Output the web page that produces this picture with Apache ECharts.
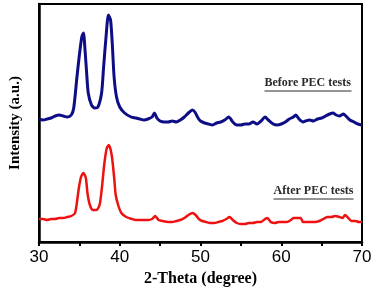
<!DOCTYPE html>
<html><head><meta charset="utf-8">
<script src="https://cdn.jsdelivr.net/npm/echarts@6/dist/echarts.min.js"></script>
<style>html,body{margin:0;padding:0;background:#fff}#c{width:378px;height:295px}</style>
</head><body><div id="c"></div>
<script>
// Before PEC tests (blue): [2-theta, intensity a.u.]
var beforeTheta = [30,30.5,31,31.5,32,32.5,33,33.5,34,34.3,34.7,35,35.3,35.5,35.7,35.9,36.1,36.5,36.9,37.3,37.75,38,38.3,38.6,38.86,39.07,39.3,39.6,40,40.6,41.4,42,42.5,43,43.5,44,44.3,44.6,45,45.5,46,46.5,47,47.5,48,48.5,49,49.3,49.7,50,50.5,51,51.5,52,52.5,53,53.5,54,54.5,55,55.5,56,56.5,57,57.5,58,58.4,59,59.5,60,60.5,61,61.5,61.8,62.2,62.7,63,63.5,64,64.5,65,65.5,66,66.4,66.8,67.2,67.7,68,68.5,69,69.5,70];
var beforeInt = [123,122,123,124,126,127,126,125,127,134,165,187,205,209,192,169,149,137,134,135,149,175,205,227,222,199,165,145,135,129,125,124,123,122,123,125,129,124,121,120,120,121,120,122,125,129,132,130,124,121,119,118,117,119,120,122,125,120,117,117,118,118,120,118,121,125,122,118,117,118,120,123,125,127,123,120,121,122,121,123,124,126,128,129,127,126,128,126,122,120,118,117];
// After PEC tests (red)
var afterTheta = [30,30.5,31,31.5,32,32.5,33,33.5,34,34.47,34.9,35.2,35.5,35.8,36,36.3,36.7,37.1,37.5,37.8,38.1,38.4,38.65,39,39.3,39.5,39.8,40.2,40.8,41.5,42,42.5,43,43.5,44,44.4,44.8,45.3,46,46.5,47,47.5,48,48.5,49,49.4,49.8,50.2,50.7,51.2,51.7,52.2,52.7,53.2,53.6,54,54.5,55,55.5,56,56.5,57,57.5,58,58.3,58.7,59.2,59.7,60.2,60.7,61.2,61.5,62,62.4,62.7,63.2,63.7,64.2,64.7,65.2,65.7,66.2,66.7,67.2,67.6,67.9,68.3,68.7,69.2,69.6,70];
var afterInt = [23,23,22,23,23,24,24,25,26,29,52,65,69,64,49,37,32,32,37,55,79,94,97,87,65,47,37,29,25,23,22,22,22,22,23,26,22,21,20,20,21,22,24,27,29,27,23,21,20,19,19,20,21,23,25,22,19,18,18,19,19,20,20,23,24,20,19,20,20,20,22,24,24,24,20,20,20,20,21,23,25,25,26,25,24,27,24,21,21,20,20];
var xTicks = [30,40,50,60,70];
var seriesNames = ['Before PEC tests','After PEC tests'];
var xTitle = '2-Theta (degree)';
var yTitle = 'Intensity (a.u.)';

function pairs(a,b){return a.map(function(v,i){return [v,b[i]];});}
var chart = echarts.init(document.getElementById('c'), null, {renderer:'canvas'});
chart.setOption({
  animation:false,
  grid:{left:37,right:16,top:4,bottom:53,show:true,borderColor:'#000',borderWidth:2,backgroundColor:'transparent'},
  xAxis:{type:'value',min:30,max:70,interval:5,
    axisLine:{show:true,lineStyle:{color:'#000',width:2.5}},
    axisTick:{show:true,length:4,lineStyle:{color:'#000',width:2}},
    splitLine:{show:false},
    axisLabel:{margin:7,color:'#000',fontFamily:'Liberation Sans, Arial',fontSize:17,
      formatter:function(v){return xTicks.indexOf(v)>=0?String(v):'';}},
    name:xTitle,nameLocation:'middle',nameGap:29,
    nameTextStyle:{color:'#000',fontFamily:'Liberation Serif, Times New Roman',fontWeight:'bold',fontSize:16}},
  yAxis:{type:'value',min:0,max:238,
    axisLine:{show:true,lineStyle:{color:'#000',width:2.5}},
    axisTick:{show:false},axisLabel:{show:false},splitLine:{show:false},
    name:yTitle,nameLocation:'middle',nameGap:16,
    nameTextStyle:{color:'#000',fontFamily:'Liberation Serif, Times New Roman',fontWeight:'bold',fontSize:15}},
  series:[
    {name:seriesNames[0],type:'line',data:pairs(beforeTheta,beforeInt),showSymbol:false,smooth:0.25,
     lineStyle:{color:'#0d0d85',width:3}},
    {name:seriesNames[1],type:'line',data:pairs(afterTheta,afterInt),showSymbol:false,smooth:0.25,
     lineStyle:{color:'#ee1111',width:2.5}}
  ],
  graphic:[
    {type:'group',left:262,top:77,children:[
      {type:'text',style:{text:seriesNames[0],fill:'#2a2a2a',font:'bold 12px "Liberation Serif", "Times New Roman"'}},
      {type:'line',shape:{x1:0,y1:14,x2:87,y2:14},style:{stroke:'#2a2a2a',lineWidth:1}}
    ]},
    {type:'group',left:271,top:185,children:[
      {type:'text',style:{text:seriesNames[1],fill:'#2a2a2a',font:'bold 12px "Liberation Serif", "Times New Roman"'}},
      {type:'line',shape:{x1:0,y1:14,x2:80,y2:14},style:{stroke:'#2a2a2a',lineWidth:1}}
    ]}
  ]
});
</script></body></html>
